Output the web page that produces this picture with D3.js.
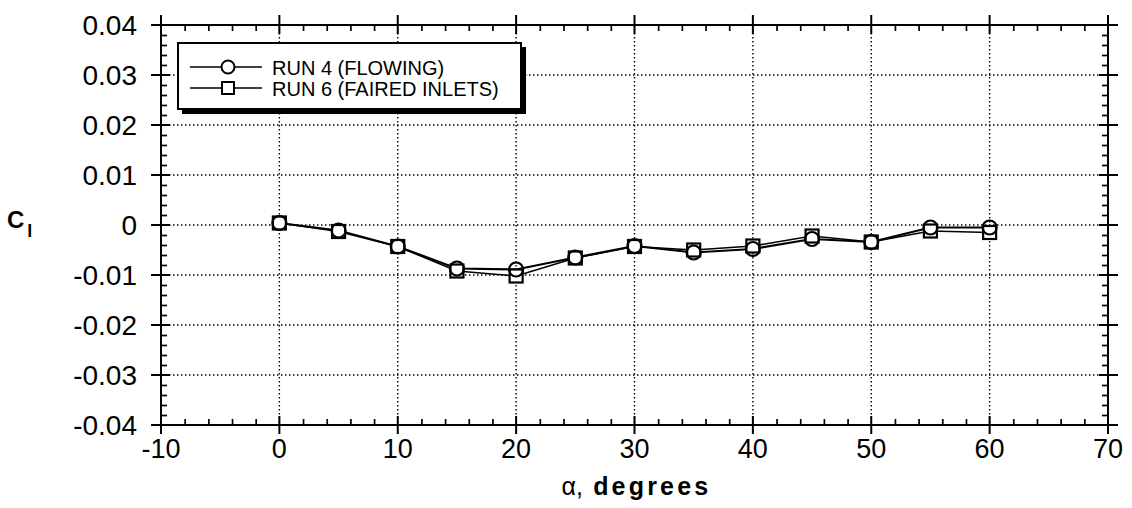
<!DOCTYPE html>
<html><head><meta charset="utf-8">
<script src="https://cdn.jsdelivr.net/npm/d3@7"></script>
<style>
html,body{margin:0;padding:0;background:#fff;}
svg{display:block;font-family:"Liberation Sans",Arial,Helvetica,sans-serif;}
</style></head>
<body>
<svg id="chart" width="1132" height="508"></svg>
<script>
const alpha = [0, 5, 10, 15, 20, 25, 30, 35, 40, 45, 50, 55, 60];
const run4 = [0.0004, -0.0011, -0.0043, -0.0087, -0.0089, -0.0065, -0.0042, -0.0055, -0.0048, -0.0028, -0.0034, -0.0005, -0.0005];
const run6 = [0.0004, -0.0013, -0.0043, -0.0092, -0.0102, -0.0066, -0.0043, -0.0050, -0.0042, -0.0022, -0.0034, -0.0012, -0.0015];
const seriesNames = ["RUN 4 (FLOWING)", "RUN 6 (FAIRED INLETS)"];
const xTicks = [-10, 0, 10, 20, 30, 40, 50, 60, 70];
const yTicks = [0.04, 0.03, 0.02, 0.01, 0, -0.01, -0.02, -0.03, -0.04];
const yTickLabels = ["0.04", "0.03", "0.02", "0.01", "0", "-0.01", "-0.02", "-0.03", "-0.04"];

const svg = d3.select("#chart");
const L = 161, R = 1108, T = 25, B = 425;
const x = d3.scaleLinear().domain([-10, 70]).range([L, R]);
const y = d3.scaleLinear().domain([-0.04, 0.04]).range([B, T]);

svg.append("rect").attr("width", 1132).attr("height", 508).attr("fill", "#fff");

// grid
const grid = svg.append("g").attr("stroke", "#000").attr("stroke-width", 1.4).attr("stroke-dasharray", "1.5,2.5");
grid.selectAll("line.v").data(xTicks.slice(1, -1)).join("line")
  .attr("x1", d => x(d)).attr("x2", d => x(d)).attr("y1", T).attr("y2", B);
grid.selectAll("line.h").data(yTicks.slice(1, -1)).join("line")
  .attr("x1", L).attr("x2", R).attr("y1", d => y(d)).attr("y2", d => y(d));

// minor ticks
const xMinor = d3.range(-10, 70.001, 2).filter(v => Math.abs(v % 10) > 0.01);
const yMinor = d3.range(-40, 40.001, 2).map(v => v / 1000).filter(v => Math.abs(Math.round(v * 1000) % 10) > 0.01);

const axB = d3.axisBottom(x).tickValues(xMinor).tickSize(-6).tickFormat("");
const axT = d3.axisTop(x).tickValues(xMinor).tickSize(-6).tickFormat("");
const axLf = d3.axisLeft(y).tickValues(yMinor).tickSize(-6).tickFormat("");
const axRt = d3.axisRight(y).tickValues(yMinor).tickSize(-6).tickFormat("");
function styleAxis(g){ g.select(".domain").remove(); g.selectAll(".tick line").attr("stroke", "#000").attr("stroke-width", 1.7); }
svg.append("g").attr("transform", `translate(0,${B})`).call(axB).call(styleAxis);
svg.append("g").attr("transform", `translate(0,${T})`).call(axT).call(styleAxis);
svg.append("g").attr("transform", `translate(${L},0)`).call(axLf).call(styleAxis);
svg.append("g").attr("transform", `translate(${R},0)`).call(axRt).call(styleAxis);

// major ticks crossing
const maj = svg.append("g").attr("stroke", "#000").attr("stroke-width", 2);
maj.selectAll("line.bx").data(xTicks).join("line").attr("x1", d => x(d)).attr("x2", d => x(d)).attr("y1", B - 9).attr("y2", B + 9);
maj.selectAll("line.tx").data(xTicks).join("line").attr("x1", d => x(d)).attr("x2", d => x(d)).attr("y1", T - 10).attr("y2", T + 9);
maj.selectAll("line.ly").data(yTicks).join("line").attr("x1", L - 10).attr("x2", L + 9).attr("y1", d => y(d)).attr("y2", d => y(d));
maj.selectAll("line.ry").data(yTicks).join("line").attr("x1", R - 9).attr("x2", R + 10).attr("y1", d => y(d)).attr("y2", d => y(d));

// frame
svg.append("rect").attr("x", L).attr("y", T).attr("width", R - L).attr("height", B - T)
  .attr("fill", "none").attr("stroke", "#000").attr("stroke-width", 2);

// tick labels
svg.append("g").selectAll("text").data(xTicks).join("text")
  .attr("x", d => x(d)).attr("y", B + 33).attr("text-anchor", "middle")
  .attr("font-size", 27).text(d => d);
svg.append("g").selectAll("text").data(yTicks).join("text")
  .attr("x", 137).attr("y", d => y(d) + 9.5).attr("text-anchor", "end")
  .attr("font-size", 28).text((d, i) => yTickLabels[i]);

// axis titles
const yl = svg.append("text").attr("x", 7).attr("y", 228).attr("font-weight", "bold").attr("font-size", 24);
yl.append("tspan").text("C");
yl.append("tspan").attr("dx", 3).attr("dy", 9).attr("font-size", 18).text("l");
const xl = svg.append("text").attr("x", (L + R) / 2 + 2).attr("y", 495).attr("text-anchor", "middle").attr("font-size", 25);
xl.append("tspan").text("α,");
xl.append("tspan").attr("font-weight", "bold").attr("letter-spacing", 3.2).text(" degrees");

// data lines
const line = d3.line().x((d, i) => x(alpha[i])).y(d => y(d));
svg.append("path").datum(run6).attr("d", line).attr("fill", "none").attr("stroke", "#000").attr("stroke-width", 1.6);
svg.append("path").datum(run4).attr("d", line).attr("fill", "none").attr("stroke", "#000").attr("stroke-width", 2.2);

// markers
svg.append("g").selectAll("rect").data(run6).join("rect")
  .attr("x", (d, i) => x(alpha[i]) - 6.5).attr("y", d => y(d) - 6.5).attr("width", 13).attr("height", 13)
  .attr("fill", "#fff").attr("stroke", "#000").attr("stroke-width", 2.2);
svg.append("g").selectAll("circle").data(run4).join("circle")
  .attr("cx", (d, i) => x(alpha[i])).attr("cy", d => y(d)).attr("r", 7)
  .attr("fill", "none").attr("stroke", "#000").attr("stroke-width", 2.2);

// legend
const lg = svg.append("g");
lg.append("rect").attr("x", 182).attr("y", 47).attr("width", 344).attr("height", 67).attr("fill", "#000");
lg.append("rect").attr("x", 178).attr("y", 43).attr("width", 343).attr("height", 66).attr("fill", "#fff").attr("stroke", "#000").attr("stroke-width", 2);
const rows = [67, 88];
rows.forEach((ry, i) => {
  lg.append("line").attr("x1", 190).attr("x2", 262).attr("y1", ry).attr("y2", ry).attr("stroke", "#000").attr("stroke-width", 1.6);
  if (i === 0) lg.append("circle").attr("cx", 228).attr("cy", ry).attr("r", 6.5).attr("fill", "#fff").attr("stroke", "#000").attr("stroke-width", 2);
  else lg.append("rect").attr("x", 222).attr("y", ry - 6).attr("width", 12).attr("height", 12).attr("fill", "#fff").attr("stroke", "#000").attr("stroke-width", 2);
  lg.append("text").attr("x", 272).attr("y", ry + 7.5).attr("font-size", 20).text(seriesNames[i]);
});
</script>
</body></html>
